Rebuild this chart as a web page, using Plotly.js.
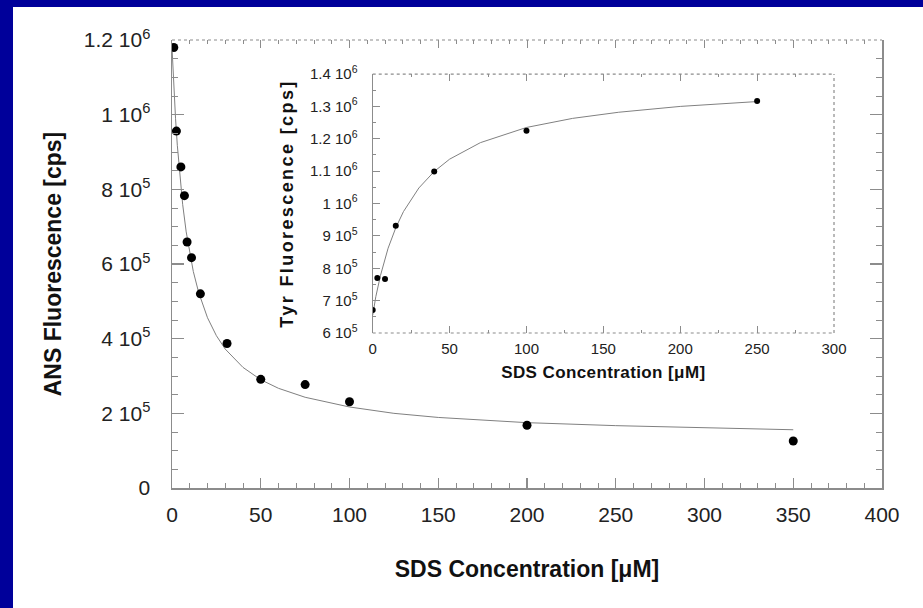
<!DOCTYPE html>
<html>
<head>
<meta charset="utf-8">
<script src="https://cdn.plot.ly/plotly-3.0.1.min.js"></script>
<style>
  html, body { margin: 0; padding: 0; background: #ffffff; overflow: hidden; }
  #under { position: fixed; left: 0; top: 0; right: 0; bottom: 0; background: #ffffff; }
  #barLeft { position: fixed; left: 0; top: 0; width: 13px; bottom: 0; background: #00009a; }
  #barTop { position: fixed; left: 0; top: 0; right: 0; height: 7px; background: #00009a; }
  #chart { position: fixed; left: 13px; top: 7px; width: 910px; height: 601px; background: #ffffff; }
  .g-y2title text { letter-spacing: 2.4px; }
  .g-x2title text { letter-spacing: 0.4px; }
</style>
</head>
<body>
<div id="under"></div>
<div id="barLeft"></div>
<div id="barTop"></div>
<div id="chart"></div>
<script>
// Main panel: ANS fluorescence vs SDS concentration
const ansX = [1, 2.5, 5, 7, 8.5, 11, 16, 31, 50, 75, 100, 200, 350];
const ansY = [1180000, 956000, 860000, 783000, 659000, 617000, 520000, 387000, 291000, 277000, 231000, 168000, 126000];
// Fitted curve of main panel
const ansFitX = [0, 1, 2, 3, 4, 5, 6, 8, 10, 12, 15, 20, 25, 30, 40, 50, 60, 75, 100, 125, 150, 200, 250, 300, 350];
const ansFitY = [1180000, 1075000, 989000, 918000, 857000, 805000, 760000, 686000, 627000, 580000, 524000, 456000, 408000, 372000, 323000, 290000, 267000, 243000, 217000, 200000, 189000, 175000, 167000, 161000, 156000];

// Inset: Tyr fluorescence vs SDS concentration
const tyrX = [0, 3, 8, 15, 40, 100, 250];
const tyrY = [671000, 770000, 767000, 931000, 1099000, 1225000, 1317000];
const tyrFitX = [0, 2, 5, 10, 15, 20, 30, 40, 50, 70, 100, 130, 160, 200, 250];
const tyrFitY = [655000, 712000, 777000, 862000, 925000, 975000, 1048000, 1099000, 1137000, 1188000, 1235000, 1263000, 1282000, 1300000, 1315000];

// Tick labels
const mainXTicks = [0, 50, 100, 150, 200, 250, 300, 350, 400];
const mainYTickVals = [0, 200000, 400000, 600000, 800000, 1000000, 1200000];
const mainYTickText = ['0', '2 10<sup>5</sup>', '4 10<sup>5</sup>', '6 10<sup>5</sup>', '8 10<sup>5</sup>', '1 10<sup>6</sup>', '1.2 10<sup>6</sup>'];
const insetXTicks = [0, 50, 100, 150, 200, 250, 300];
const insetYTickVals = [600000, 700000, 800000, 900000, 1000000, 1100000, 1200000, 1300000, 1400000];
const insetYTickText = ['6 10<sup>5</sup>', '7 10<sup>5</sup>', '8 10<sup>5</sup>', '9 10<sup>5</sup>', '1 10<sup>6</sup>', '1.1 10<sup>6</sup>', '1.2 10<sup>6</sup>', '1.3 10<sup>6</sup>', '1.4 10<sup>6</sup>'];

const FONT = 'Liberation Sans, Arial, Helvetica, sans-serif';
const AX = '#8c8c8c';

const traces = [
  { x: ansFitX, y: ansFitY, mode: 'lines', line: { color: '#808080', width: 1 }, xaxis: 'x', yaxis: 'y', hoverinfo: 'skip' },
  { x: ansX, y: ansY, mode: 'markers', marker: { color: '#000000', size: 9 }, xaxis: 'x', yaxis: 'y' },
  { x: ansX, y: ansY, mode: 'markers', marker: { opacity: 0 }, xaxis: 'x3', yaxis: 'y', hoverinfo: 'skip' },
  { x: tyrFitX, y: tyrFitY, mode: 'lines', line: { color: '#808080', width: 1 }, xaxis: 'x2', yaxis: 'y2', hoverinfo: 'skip' },
  { x: tyrX, y: tyrY, mode: 'markers', marker: { color: '#000000', size: 6 }, xaxis: 'x2', yaxis: 'y2' }
];

const layout = {
  width: 910, height: 601,
  paper_bgcolor: '#ffffff', plot_bgcolor: 'rgba(0,0,0,0)',
  margin: { l: 159, r: 41, t: 33, b: 120 },
  showlegend: false, hovermode: false,
  font: { family: FONT, color: '#222222' },
  xaxis: {
    domain: [0, 1], anchor: 'y', range: [0, 400],
    tickvals: mainXTicks, ticktext: mainXTicks.map(String),
    ticks: 'inside', ticklen: 10, tickwidth: 1.2, tickcolor: AX,
    minor: { dtick: 10, ticks: 'inside', ticklen: 5, tickcolor: AX, tickwidth: 1 },
    showline: true, linecolor: AX, linewidth: 1.5, mirror: false,
    showgrid: false, zeroline: false,
    tickfont: { size: 21, color: '#222222' }, ticklabelstandoff: 7,
    title: { text: 'SDS Concentration [μM]', font: { size: 23, weight: 'bold', color: '#111111' }, standoff: 36 }
  },
  xaxis3: {
    overlaying: 'x', side: 'top', anchor: 'y', range: [0, 400],
    tickvals: mainXTicks, showticklabels: false,
    ticks: 'inside', ticklen: 8, tickwidth: 1, tickcolor: AX,
    minor: { dtick: 10, ticks: 'inside', ticklen: 4, tickcolor: AX, tickwidth: 1 },
    showline: false, showgrid: false, zeroline: false
  },
  yaxis: {
    domain: [0, 1], anchor: 'x', range: [0, 1200000],
    tickvals: mainYTickVals, ticktext: mainYTickText,
    ticks: 'inside', ticklen: 12, tickwidth: 1.2, tickcolor: AX,
    minor: { dtick: 50000, ticks: 'inside', ticklen: 6, tickcolor: AX, tickwidth: 1 },
    showline: true, linecolor: AX, linewidth: 1.5, mirror: 'ticks',
    showgrid: false, zeroline: false,
    tickfont: { size: 21, color: '#222222' }, ticklabelstandoff: 16,
    title: { text: 'ANS Fluorescence [cps]', font: { size: 23, weight: 'bold', color: '#111111' }, standoff: 15 }
  },
  xaxis2: {
    domain: [0.2827, 0.9324], anchor: 'y2', range: [0, 300],
    tickvals: insetXTicks, ticktext: insetXTicks.map(String),
    ticks: 'inside', ticklen: 7, tickwidth: 1, tickcolor: AX, mirror: 'ticks',
    minor: { dtick: 25, ticks: 'inside', ticklen: 3, tickcolor: AX, tickwidth: 1 },
    showline: false, showgrid: false, zeroline: false,
    tickfont: { size: 15, color: '#222222' }, ticklabelstandoff: 5,
    title: { text: 'SDS Concentration [μM]', font: { size: 17, weight: 'bold', color: '#111111' }, standoff: 10 }
  },
  yaxis2: {
    domain: [0.346, 0.924], anchor: 'x2', range: [600000, 1400000],
    tickvals: insetYTickVals, ticktext: insetYTickText,
    ticks: 'inside', ticklen: 7, tickwidth: 1, tickcolor: AX,
    minor: { dtick: 50000, ticks: 'inside', ticklen: 3, tickcolor: AX, tickwidth: 1 },
    showline: true, linecolor: AX, linewidth: 1.2, mirror: false,
    showgrid: false, zeroline: false,
    tickfont: { size: 15, color: '#222222' }, ticklabelstandoff: 11,
    title: { text: 'Tyr Fluorescence [cps]', font: { size: 18, weight: 'bold', color: '#111111' }, standoff: 11 }
  },
  shapes: [
    { type: 'line', xref: 'paper', yref: 'paper', x0: 0, x1: 1, y0: 1, y1: 1, line: { color: AX, width: 1.2, dash: 'dot' } },
    { type: 'line', xref: 'x2 domain', yref: 'y2 domain', x0: 0, x1: 1, y0: 1, y1: 1, line: { color: AX, width: 1.2, dash: 'dot' } },
    { type: 'line', xref: 'x2 domain', yref: 'y2 domain', x0: 0, x1: 1, y0: 0, y1: 0, line: { color: AX, width: 1.2, dash: 'dot' } },
    { type: 'line', xref: 'x2 domain', yref: 'y2 domain', x0: 1, x1: 1, y0: 0, y1: 1, line: { color: AX, width: 1.2, dash: 'dot' } }
  ]
};

Plotly.newPlot('chart', traces, layout, { staticPlot: true, displayModeBar: false });
</script>
</body>
</html>
